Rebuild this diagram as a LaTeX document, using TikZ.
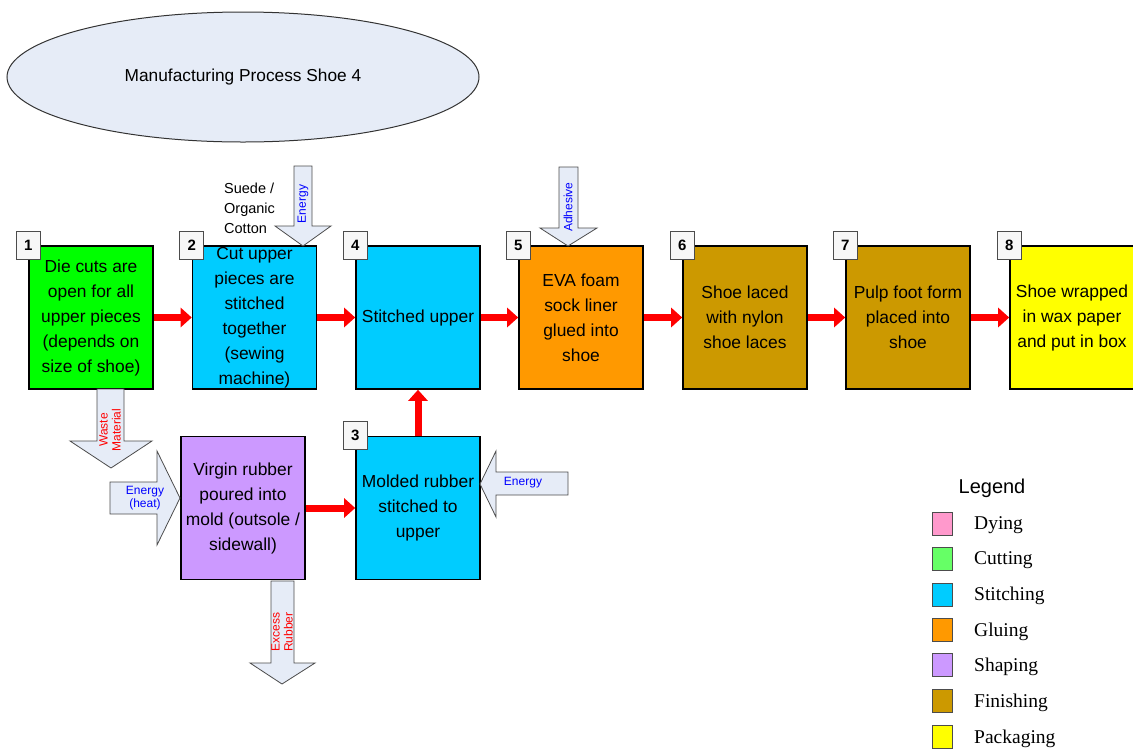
\documentclass[tikz,border=0pt]{standalone}
\usepackage{fontspec}
\setmainfont{Liberation Sans}
\newfontfamily\legendfont{Liberation Serif}
\usetikzlibrary{positioning,shapes.geometric,arrows.meta}
\definecolor{paleblue}{HTML}{E6ECF7}
\definecolor{boxgreen}{HTML}{00FF00}
\definecolor{dyepink}{HTML}{FF99CC}
\definecolor{cutgreen}{HTML}{66FF66}
\definecolor{stitchblue}{HTML}{00CCFF}
\definecolor{glueorange}{HTML}{FF9900}
\definecolor{shapepurple}{HTML}{CC99FF}
\definecolor{finishbrown}{HTML}{CC9900}
\definecolor{packyellow}{HTML}{FFFF00}

\begin{document}
\begin{tikzpicture}[x=1pt,y=-1pt,
                       step node/.style={draw=black,line width=1.6pt,inner sep=0pt,
                                         minimum width=124pt,minimum height=143pt,align=center,
                                         font=\fontsize{17.4}{25}\selectfont},
                       num node/.style={draw=black!70,fill=black!3,line width=0.8pt,inner sep=0pt,
                                        minimum width=24pt,minimum height=28pt,
                                        font=\fontsize{15}{15}\selectfont\bfseries},
                       flow/.style={red,line width=7pt,-{Triangle[length=11pt,width=19pt]}},
                       block arrow/.style={draw=black!70,fill=paleblue,line width=0.8pt},
                       side text/.style={font=\fontsize{12}{13}\selectfont,align=center,inner sep=0pt},
                       key box/.style={draw=black!70,line width=0.8pt,inner sep=0pt,
                                       minimum width=20pt,minimum height=23pt},
                       key text/.style={anchor=west,inner sep=0pt,
                                        font=\legendfont\fontsize{19.5}{20}\selectfont}
                      ]
   \useasboundingbox (0,0) rectangle (1133,753);

   % title
   \node[ellipse,draw=black!80,fill=paleblue,line width=1pt,minimum width=472pt,
         minimum height=130pt,font=\fontsize{17.3}{20}\selectfont] (title) at (243,77)
         {Manufacturing Process Shoe 4};

   % process steps
   \node[step node,fill=boxgreen] (n1) at (91,317.5)
        {Die cuts are\\open for all\\upper pieces\\(depends on\\size of shoe)};
   \node[step node,fill=stitchblue] (n2) at (254.5,317.5)
        {Cut upper\\pieces are\\stitched\\together\\(sewing\\machine)};
   \node[step node,fill=stitchblue] (n4) at (418,317.5) {Stitched upper};
   \node[step node,fill=glueorange] (n5) at (581,317.5)
        {EVA foam\\sock liner\\glued into\\shoe};
   \node[step node,fill=finishbrown] (n6) at (745,317.5)
        {Shoe laced\\with nylon\\shoe laces};
   \node[step node,fill=finishbrown] (n7) at (908,317.5)
        {Pulp foot form\\placed into\\shoe};
   \node[step node,fill=packyellow] (n8) at (1072,317.5)
        {Shoe wrapped\\in wax paper\\and put in box};
   \node[step node,fill=stitchblue] (n3) at (418,508)
        {Molded rubber\\stitched to\\upper};
   \node[step node,fill=shapepurple] (mold) at (243,508)
        {Virgin rubber\\poured into\\mold (outsole /\\sidewall)};

   % step numbers
   \node[num node] (t1) at (n1.north west) {1};
   \node[num node] (t2) at (n2.north west) {2};
   \node[num node] (t3) at (n3.north west) {3};
   \node[num node] (t4) at (n4.north west) {4};
   \node[num node] (t5) at (n5.north west) {5};
   \node[num node] (t6) at (n6.north west) {6};
   \node[num node] (t7) at (n7.north west) {7};
   \node[num node] (t8) at (n8.north west) {8};

   % main flow
   \path[flow]
    (n1) edge (n2)
    (n2) edge (n4)
    (n4) edge (n5)
    (n5) edge (n6)
    (n6) edge (n7)
    (n7) edge (n8)
    (mold) edge (n3)
    (n3) edge (n4);

   % inputs and outputs
   \draw[block arrow] (294,166) -- (312,166) -- (312,226) -- (331,226) -- (303,246)
        -- (275,226) -- (294,226) -- cycle;
   \node[side text,text=blue,rotate=90] (energy2) at (303,204) {Energy};
   \node[anchor=west,align=left,inner sep=0pt,font=\fontsize{14.5}{20}\selectfont]
        (suede) at (224,208) {Suede /\\Organic\\Cotton};

   \draw[block arrow] (559,167) -- (578,167) -- (578,228) -- (597,228) -- (568,246)
        -- (540,228) -- (559,228) -- cycle;
   \node[side text,text=blue,rotate=90] (glue) at (568,207) {Adhesive};

   \draw[block arrow] (97,389) -- (124,389) -- (124,441) -- (152,441) -- (111,468)
        -- (70,441) -- (97,441) -- cycle;
   \node[side text,text=red,rotate=90] (waste) at (110,430) {Waste\\Material};

   \draw[block arrow] (110,482) -- (157,482) -- (157,451) -- (180,498) -- (157,545)
        -- (157,514) -- (110,514) -- cycle;
   \node[side text,text=blue] (heat) at (145,498) {Energy\\(heat)};

   \draw[block arrow] (271,581) -- (294,581) -- (294,663) -- (315,663) -- (282,684)
        -- (250,663) -- (271,663) -- cycle;
   \node[side text,text=red,rotate=90] (excess) at (282,632) {Excess\\Rubber};

   \draw[block arrow] (568,472) -- (568,495) -- (496,495) -- (496,517) -- (480,484)
        -- (496,451) -- (496,472) -- cycle;
   \node[side text,text=blue] (energy3) at (523,483) {Energy};

   % legend
   \node[font=\fontsize{20}{20}\selectfont] (legend) at (992,488) {Legend};
   \node[key box,fill=dyepink] (k1) at (942,523.5) {};
   \node[key text] (l1) at (974,525) {Dying};
   \node[key box,fill=cutgreen] (k2) at (942,559) {};
   \node[key text] (l2) at (974,560.5) {Cutting};
   \node[key box,fill=stitchblue] (k3) at (942,594.5) {};
   \node[key text] (l3) at (974,596) {Stitching};
   \node[key box,fill=glueorange] (k4) at (942,630) {};
   \node[key text] (l4) at (974,631.5) {Gluing};
   \node[key box,fill=shapepurple] (k5) at (942,665) {};
   \node[key text] (l5) at (974,666.5) {Shaping};
   \node[key box,fill=finishbrown] (k6) at (942,701) {};
   \node[key text] (l6) at (974,702.5) {Finishing};
   \node[key box,fill=packyellow] (k7) at (942,737) {};
   \node[key text] (l7) at (974,738.5) {Packaging};
  \end{tikzpicture}
\end{document}
